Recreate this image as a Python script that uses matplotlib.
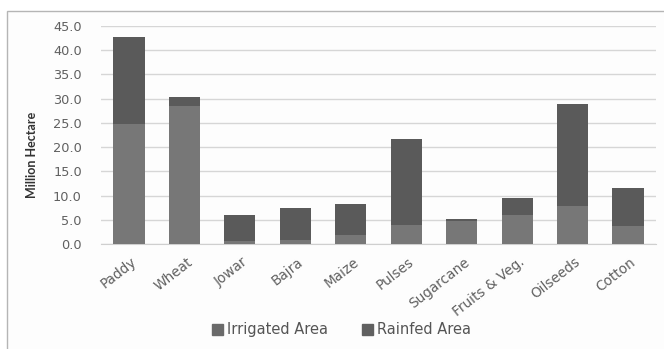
import matplotlib
matplotlib.use("Agg")
import matplotlib.pyplot as plt
from matplotlib.patches import Rectangle, Patch
from matplotlib.transforms import ScaledTranslation
import numpy as np

crops = ["Paddy", "Wheat", "Jowar", "Bajra", "Maize", "Pulses",
         "Sugarcane", "Fruits & Veg.", "Oilseeds", "Cotton"]
irrigated = [24.7, 28.5, 0.7, 0.9, 1.9, 3.9, 4.8, 6.0, 7.9, 3.7]
rainfed = [18.0, 1.8, 5.2, 6.5, 6.3, 17.7, 0.3, 3.5, 21.0, 7.8]
yticks = [0, 5, 10, 15, 20, 25, 30, 35, 40, 45]

plt.rcParams["font.family"] = ["DejaVu Sans"]

fig = plt.figure(figsize=(6.64, 3.49), dpi=100)
fig.patch.set_facecolor("white")

# outer chart frame (runs off the right and bottom edges)
frame = Rectangle((7 / 664, -0.05), 1.2, 1 - 11 / 349 + 0.05,
                  transform=fig.transFigure, facecolor="#fdfdfd",
                  edgecolor="#b5b5b5", linewidth=1.0, zorder=-10)
fig.add_artist(frame)

ax = fig.add_axes([101.3 / 664, 105 / 349, 554.4 / 664, 218 / 349])
ax.set_facecolor("none")
ax.set_zorder(5)

x = np.arange(len(crops))
ax.bar(x, irrigated, width=0.56, color="#777777", label="Irrigated Area", zorder=3)
ax.bar(x, rainfed, width=0.56, bottom=irrigated, color="#5a5a5a",
       label="Rainfed Area", zorder=3)

ax.set_xlim(-0.5, len(crops) - 0.5)
ax.set_ylim(0, 45)
ax.set_yticks(yticks)
ax.set_yticklabels([f"{v:.1f}" for v in yticks])
ax.yaxis.grid(True, color="#d6d6d6", linewidth=1.0, zorder=0)
ax.set_axisbelow(True)
for side in ["top", "right", "left"]:
    ax.spines[side].set_visible(False)
ax.spines["bottom"].set_color("#cfcfcf")
ax.tick_params(axis="both", length=0, labelsize=9.3, colors="#606060")
ax.tick_params(axis="y", pad=14)

ax.set_xticks(x)
ax.set_xticklabels(crops, rotation=38, ha="right", rotation_mode="anchor",
                   fontsize=9.8)
offset = ScaledTranslation(2 / 100, -6 / 100, fig.dpi_scale_trans)
for lbl in ax.get_xticklabels():
    lbl.set_transform(lbl.get_transform() + offset)

ax.set_ylabel("Million Hectare", fontsize=9, fontweight="bold", color="#333333",
              family=["Lato", "DejaVu Sans"])
ax.yaxis.set_label_coords(-0.114, 0.41)

handles = [Patch(color="#6a6a6a"), Patch(color="#606060")]
fig.legend(handles, ["Irrigated Area", "Rainfed Area"], loc="center",
           bbox_to_anchor=(0.514, 0.055), ncol=2, frameon=False, fontsize=10.5,
           handlelength=0.75, handleheight=0.75, handletextpad=0.3,
           columnspacing=2.3, labelcolor="#555555")

fig.savefig("out.png", dpi=100)
